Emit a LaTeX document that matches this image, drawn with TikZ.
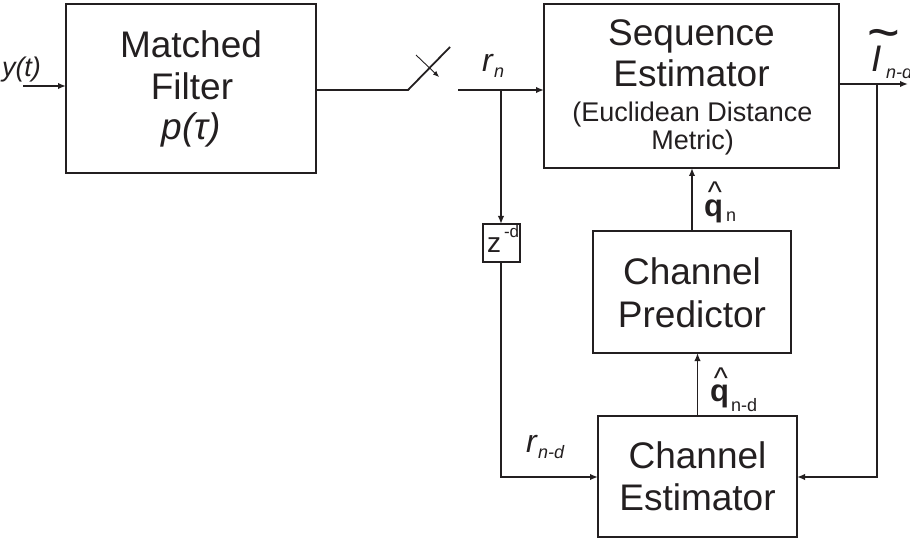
\documentclass[tikz,border=0pt]{standalone}
\usepackage{fontspec}
\setmainfont{Liberation Sans}
\usetikzlibrary{arrows.meta}
\definecolor{ink}{HTML}{231F20}
\begin{document}
\begin{tikzpicture}[x=1pt,y=-1pt,
  every node/.style={inner sep=0pt, outer sep=0pt, text=ink},
  blk/.style={draw=ink, line width=2pt, rectangle},
  wire/.style={draw=ink, line width=1.8pt},
  arr/.style={wire, -{Latex[length=8pt,width=6.5pt]}},
  big/.style={font=\fontsize{37}{41}\selectfont, anchor=base},
  mid/.style={font=\fontsize{27}{30}\selectfont, anchor=base},
  sym/.style={font=\fontsize{32}{32}\selectfont\itshape, anchor=base west},
  subs/.style={font=\fontsize{18}{18}\selectfont\itshape, anchor=base west},
  qsym/.style={font=\fontsize{31}{31}\selectfont\bfseries, anchor=base west},
  qhat/.style={font=\fontsize{30}{30}\selectfont, anchor=base},
  qsub/.style={font=\fontsize{18}{18}\selectfont, anchor=base west},
]
\useasboundingbox (0,0) rectangle (910,540);

% boxes
\node[blk, minimum width=250pt, minimum height=169pt] (mf) at (191,88.5) {};
\node[blk, minimum width=295pt, minimum height=164pt] (se) at (691.5,86) {};
\node[blk, minimum width=198pt, minimum height=122pt] (cp) at (692,292) {};
\node[blk, minimum width=199pt, minimum height=121pt] (ce) at (697.5,476.5) {};
\node[blk, minimum width=37pt, minimum height=38pt] (zd) at (501,243) {};

% box texts
\node[big] (t1) at (191,58) {Matched};
\node[big] (t2) at (192,100) {Filter};
\node[big] (t3) at (191,140) {\itshape p(τ)};
\node[big] (t4) at (691.5,46) {Sequence};
\node[big] (t5) at (691.5,87) {Estimator};
\node[mid] (t6) at (692.5,122) {(Euclidean Distance};
\node[mid] (t7) at (692.5,150) {Metric)};
\node[big] (t8) at (692,284) {Channel};
\node[big] (t9) at (692,327) {Predictor};
\node[big] (t10) at (697.5,468) {Channel};
\node[big] (t11) at (697.5,510) {Estimator};

% z^{-d}
\node[font=\fontsize{28}{30}\selectfont, anchor=base west] (z) at (487,252) {z};
\node[font=\fontsize{17}{18}\selectfont, anchor=base west] (zs) at (504,237) {-d};

% labels
\node[font=\fontsize{27}{30}\selectfont\itshape, anchor=base west] (yt) at (2,77) {y(t)};
\node[sym] (rn) at (482,72) {r};
\node[subs] (rns) at (494,78) {n};
\node[sym] (rnd) at (526,452) {r};
\node[subs] (rnds) at (538,458) {n-d};

\node[qsym] (q1) at (704,216) {q};
\node[qhat] (h1) at (715,203) {\textasciicircum};
\node[qsub] (q1s) at (726,222) {n};
\node[qsym] (q2) at (710,401) {q};
\node[qhat] (h2) at (721,388) {\textasciicircum};
\node[qsub] (q2s) at (731,411) {n-d};

\node[font=\fontsize{37}{37}\selectfont\itshape, anchor=base west] (I) at (871,72) {I};
\node[font=\fontsize{18}{18}\selectfont\itshape, anchor=base west] (Is) at (886,79) {n-d};
\node[font=\fontsize{56}{56}\selectfont, anchor=base] (tl) at (884,52) {\textasciitilde};

% connectors
\coordinate (yin) at (23,86);
\draw[arr] (yin) -- (yin -| mf.west);
\coordinate (sw1) at (408,90);
\coordinate (sw2) at (450,47);
\draw[wire] (mf.east |- sw1) -- (sw1) -- (sw2);
\coordinate (sa) at (416,55);
\coordinate (sb) at (439,77);
\draw[draw=ink, line width=0.9pt, -{Latex[length=6pt,width=5pt]}] (sa) -- (sb);
\coordinate (rs) at (458,90);
\coordinate (j1) at (501,90);
\draw[arr] (rs) -- (rs -| se.west);
\draw[arr] (j1) -- (zd.north);
\coordinate (c1) at (501,477);
\draw[arr] (zd.south) -- (c1) -- (c1 -| ce.west);
\coordinate (j2) at (877,84);
\coordinate (out) at (908,84);
\draw[arr] (j2 -| se.east) -- (out);
\coordinate (c2) at (877,477);
\draw[arr] (j2) -- (c2) -- (c2 -| ce.east);
\draw[arr] (cp.north) -- (cp.north |- se.south);
\draw[arr] (ce.north) -- (ce.north |- cp.south);
\end{tikzpicture}
\end{document}
